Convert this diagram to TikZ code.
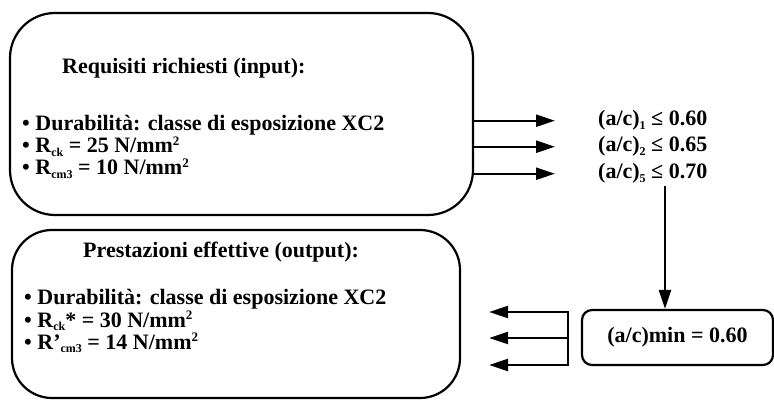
\documentclass[tikz,border=0pt]{standalone}
\usepackage{fontspec}
\setmainfont{Liberation Serif}
\usetikzlibrary{arrows.meta}
% small lowered / raised text for indices and exponents
\newcommand\lowtxt[1]{\raisebox{-0.35ex}{\fontsize{12}{12}\selectfont #1}}
\newcommand\uptxt[1]{\raisebox{0.75ex}{\fontsize{13}{13}\selectfont #1}}
\begin{document}
\begin{tikzpicture}[x=1pt,y=-1pt,
  every node/.style={font=\fontsize{22}{24}\selectfont\bfseries, inner sep=0pt},
  frame/.style={draw, line width=2.2pt},
  lbl/.style={anchor=base west},
  arr/.style={line width=2.2pt, -{Triangle[length=19pt,width=12pt]}}]
\useasboundingbox (0,0) rectangle (774,406);

% requirements box
\node[frame, rounded corners=45pt, minimum width=463pt, minimum height=202pt] (req) at (241.5,114) {};
\node[lbl] (reqh) at (62,74) {Requisiti richiesti (input):};
\node[lbl] (req1) at (22,131) {• Durabilità: classe di esposizione XC2};
\node[lbl] (req2) at (22,153) {• R\lowtxt{ck} = 25 N/mm\uptxt{2}};
\node[lbl] (req3) at (22,175) {• R\lowtxt{cm3} = 10 N/mm\uptxt{2}};

% performance box
\node[frame, rounded corners=40pt, minimum width=448pt, minimum height=168pt] (eff) at (236,314) {};
\node[lbl] (effh) at (83,258) {Prestazioni effettive (output):};
\node[lbl] (eff1) at (24,305) {• Durabilità: classe di esposizione XC2};
\node[lbl] (eff2) at (24,327) {• R\lowtxt{ck}* = 30 N/mm\uptxt{2}};
\node[lbl] (eff3) at (24,349) {• R’\lowtxt{cm3} = 14 N/mm\uptxt{2}};

% water/cement limits
\node[lbl] (ac1) at (598,126) {(a/c)\lowtxt{1} ≤ 0.60};
\node[lbl] (ac2) at (598,152) {(a/c)\lowtxt{2} ≤ 0.65};
\node[lbl] (ac3) at (598,179) {(a/c)\lowtxt{5} ≤ 0.70};

% minimum value
\node[frame, rounded corners=10pt, minimum width=191pt, minimum height=55pt] (min) at (677.5,337.5) {(a/c)min = 0.60};

% arrows from requirements to limits
\foreach \t in {ac1,ac2,ac3}
  \draw[arr, shorten >=43pt] (req.east |- \t.west) -- (\t.west);

% down to the minimum
\coordinate (drop) at (665,186);
\draw[arr] (drop) -- (drop |- min.north);

% fork back to the performance box
\coordinate (k1) at (568,312);
\coordinate (k2) at (568,338);
\coordinate (k3) at (568,365);
\draw[line width=2.2pt, line cap=rect] (k1) -- (k3);
\foreach \k in {k1,k2,k3}
  \draw[arr, shorten >=28pt] (\k) -- (\k -| eff.east);
\end{tikzpicture}
\end{document}
